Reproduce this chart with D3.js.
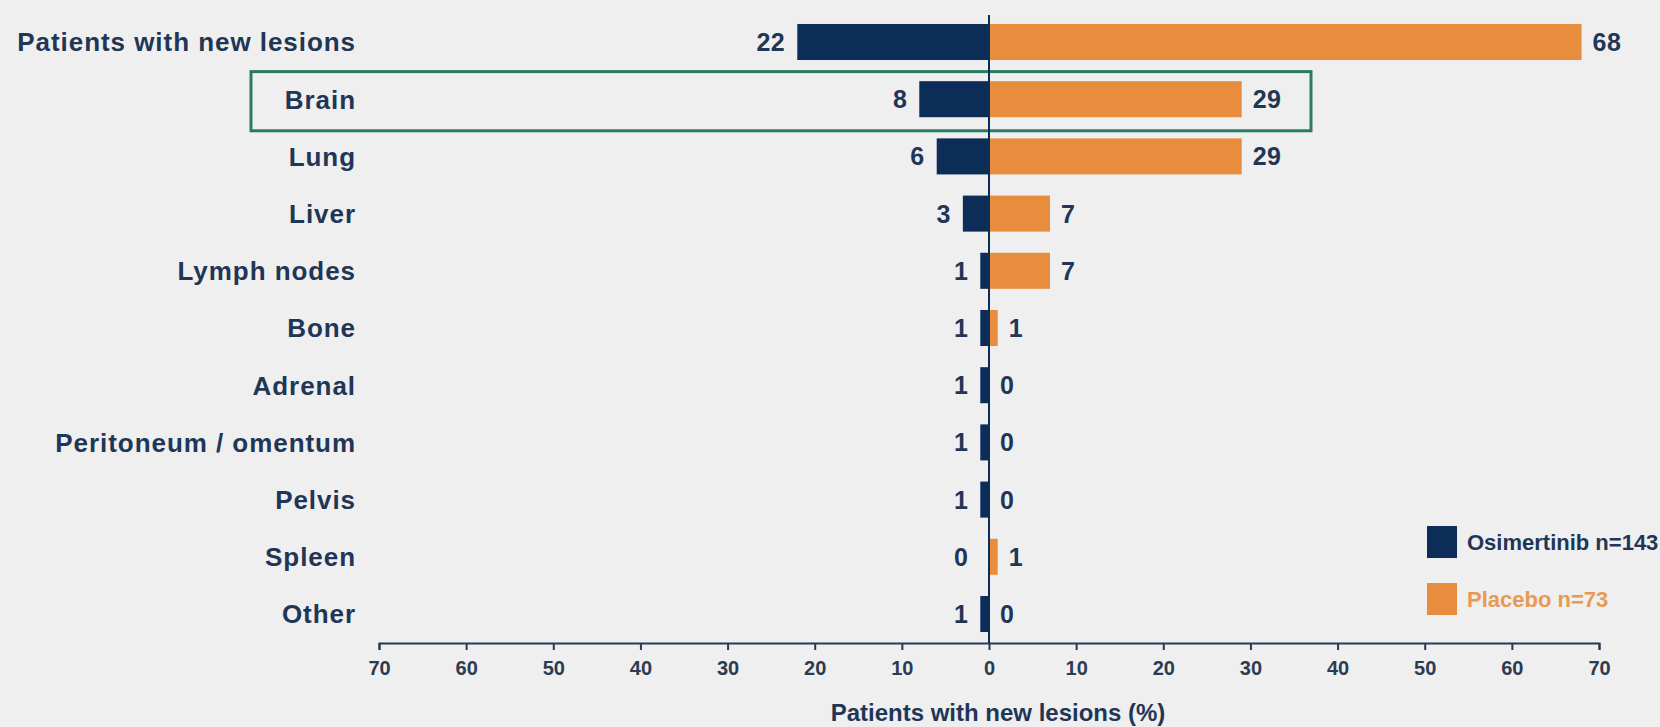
<!DOCTYPE html>
<html>
<head>
<meta charset="utf-8">
<script src="https://cdn.jsdelivr.net/npm/d3@7"></script>
<style>
  html, body { margin: 0; padding: 0; background: #efefef; }
  svg { display: block; }
  text { font-family: "Liberation Sans", Arial, sans-serif; font-weight: bold; }
</style>
</head>
<body>
<div class="canvas"></div>
<script>
// data
const sites = ['Patients with new lesions', 'Brain', 'Lung', 'Liver', 'Lymph nodes', 'Bone',
    'Adrenal', 'Peritoneum / omentum', 'Pelvis', 'Spleen', 'Other'];
const osimertinib = [22, 8, 6, 3, 1, 1, 1, 1, 1, 0, 1];
const placebo = [68, 29, 29, 7, 7, 1, 0, 0, 0, 1, 0];
const tickValues = [-70, -60, -50, -40, -30, -20, -10, 0, 10, 20, 30, 40, 50, 60, 70];
const seriesNames = ['Osimertinib n=143', 'Placebo n=73'];
const highlighted = 'Brain';

const dims = { width: 1660, height: 727 };
const navy = '#0c2d58';
const orange = '#e88d3e';
const textCol = '#1f3656';

const svg = d3.select('.canvas').append('svg')
    .attr('width', dims.width)
    .attr('height', dims.height);

const x = d3.scaleLinear().domain([-70, 70]).range([379, 1599]);
const y = d3.scaleBand().domain(sites).range([13.4, 642.6])
    .paddingInner(0.37).paddingOuter(0.185);

const rows = sites.map((s, i) => ({ site: s, osi: osimertinib[i], pla: placebo[i] }));

// highlight box round Brain
svg.append('rect')
    .attr('x', 251)
    .attr('y', y(highlighted) - (y.step() - y.bandwidth()) / 2 + 1)
    .attr('width', 1060)
    .attr('height', y.step() + 2)
    .attr('fill', 'none')
    .attr('stroke', '#2b7b62')
    .attr('stroke-width', 3);

const g = svg.append('g');

g.selectAll('.osi').data(rows).enter().append('rect')
    .attr('class', 'osi')
    .attr('x', d => x(-d.osi))
    .attr('y', d => y(d.site))
    .attr('width', d => x(0) - x(-d.osi))
    .attr('height', y.bandwidth())
    .attr('fill', navy);

g.selectAll('.pla').data(rows).enter().append('rect')
    .attr('class', 'pla')
    .attr('x', x(0))
    .attr('y', d => y(d.site))
    .attr('width', d => x(d.pla) - x(0))
    .attr('height', y.bandwidth())
    .attr('fill', orange);

// value labels
g.selectAll('.osiLab').data(rows).enter().append('text')
    .attr('x', d => x(-Math.max(d.osi, 1)) - 12)
    .attr('y', d => y(d.site) + y.bandwidth() / 2)
    .attr('dy', '0.36em')
    .attr('text-anchor', 'end')
    .attr('font-size', 25)
    .attr('letter-spacing', 0.5)
    .attr('fill', textCol)
    .text(d => d.osi);

g.selectAll('.plaLab').data(rows).enter().append('text')
    .attr('x', d => x(d.pla) + 11)
    .attr('y', d => y(d.site) + y.bandwidth() / 2)
    .attr('dy', '0.36em')
    .attr('font-size', 25)
    .attr('letter-spacing', 0.5)
    .attr('fill', textCol)
    .text(d => d.pla);

// category labels
g.selectAll('.cat').data(sites).enter().append('text')
    .attr('x', 356)
    .attr('y', d => y(d) + y.bandwidth() / 2)
    .attr('dy', '0.36em')
    .attr('text-anchor', 'end')
    .attr('font-size', 26)
    .attr('letter-spacing', 0.95)
    .attr('fill', textCol)
    .text(d => d);

// centre line
svg.append('line')
    .attr('x1', x(0)).attr('x2', x(0))
    .attr('y1', 15).attr('y2', 643)
    .attr('stroke', navy)
    .attr('stroke-width', 2);

// x axis
const axis = svg.append('g')
    .attr('transform', 'translate(0,643)')
    .call(d3.axisBottom(x).tickValues(tickValues).tickFormat(d => Math.abs(d))
        .tickSize(7).tickSizeOuter(7).tickPadding(11));
axis.select('.domain').attr('stroke', '#243a58').attr('stroke-width', 2);
axis.selectAll('.tick line').attr('stroke', '#243a58').attr('stroke-width', 2);
axis.selectAll('.tick text')
    .attr('font-size', 20)
    .attr('font-family', '"Liberation Sans", Arial, sans-serif')
    .attr('font-weight', 'bold')
    .attr('fill', '#2c3b50');

svg.append('text')
    .attr('x', 998)
    .attr('y', 721)
    .attr('text-anchor', 'middle')
    .attr('font-size', 24)
    .attr('fill', textCol)
    .text('Patients with new lesions (%)');

// legend
const legend = svg.append('g').attr('transform', 'translate(1427,526)');
const legendCols = [navy, orange];
const legendText = [textCol, '#e99a52'];
seriesNames.forEach((name, i) => {
    legend.append('rect')
        .attr('x', 0).attr('y', i * 57)
        .attr('width', 30).attr('height', 32)
        .attr('fill', legendCols[i]);
    legend.append('text')
        .attr('x', 40).attr('y', i * 57 + 16)
        .attr('dy', '0.36em')
        .attr('font-size', 22)
        .attr('fill', legendText[i])
        .text(name);
});
</script>
</body>
</html>
